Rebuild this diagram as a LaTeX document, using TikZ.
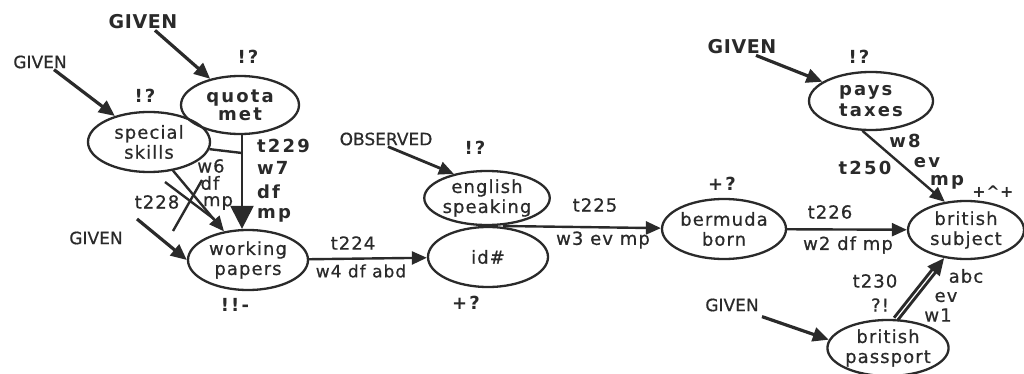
\documentclass[tikz,border=0pt]{standalone}
\usepackage{fontspec}
\setmainfont{DejaVu Sans}
\newfontfamily\wreg{DejaVu Sans}[LetterSpace=6,FakeBold=0.6]
\newfontfamily\wbold{DejaVu Sans Bold}[LetterSpace=12]
\newfontfamily\gbold{DejaVu Sans Bold}[LetterSpace=3]
\newfontfamily\greg{DejaVu Sans}[FakeBold=0.6]
\usetikzlibrary{arrows.meta,shapes.geometric}
\definecolor{ink}{HTML}{2A2A2A}
\tikzset{
  st/.style 2 args={ellipse, draw=ink, line width=2.3pt, inner sep=0pt,
    minimum width=#1pt, minimum height=#2pt, align=center, text=ink},
  lab/.style={inner sep=1pt, text=ink},
  blab/.style={lab, font=\fontsize{18}{20}\selectfont\wbold},
  arr/.style={draw=ink, line width=2.4pt, -{Triangle[length=15pt,width=13pt]}},
  garr/.style={arr, line width=3.2pt, -{Triangle[length=16pt,width=14pt]}},
  bigarr/.style={draw=ink, line width=2.4pt, -{Triangle[length=23pt,width=23pt]}},
  plain/.style={draw=ink, line width=2.4pt},
}
\begin{document}
\begin{tikzpicture}[x=1pt,y=-1pt, font=\fontsize{18}{20}\selectfont\wreg]
\useasboundingbox (0,0) rectangle (1024,374);
\fill[white] (0,0) rectangle (1024,374);

% ellipse nodes
\node[st={118}{58}, font=\fontsize{18}{18}\selectfont\wbold] (qm) at (240,105) {quota\\met};
\node[st={122}{60}] (ss) at (149,142) {special\\skills};
\node[st={120}{60}] (wp) at (248,260) {working\\papers};
\node[st={122}{54}] (es) at (487,198) {english\\speaking};
\node[st={120}{60}] (id) at (488,257) {id\#};
\node[st={124}{60}] (bb) at (724,229) {bermuda\\born};
\node[st={116}{58}] (bs) at (966,230) {british\\subject};
\node[st={124}{58}, font=\fontsize{18}{21}\selectfont\wbold, align=left] (pt) at (871,101) {pays\\taxes};
\node[st={120}{56}] (pp) at (888,348) {british\\passport};

% source labels
\node[lab, font=\fontsize{19}{20}\selectfont\gbold] (g1) at (143,22) {GIVEN};
\node[lab, font=\fontsize{17}{20}\selectfont\greg] (g2) at (40,62) {GIVEN};
\node[lab, font=\fontsize{17}{20}\selectfont\greg] (g3) at (96,238) {GIVEN};
\node[lab, font=\fontsize{17}{20}\selectfont\greg] (obs) at (386,139) {OBSERVED};
\node[lab, font=\fontsize{19}{20}\selectfont\gbold] (g4) at (742,47) {GIVEN};
\node[lab, font=\fontsize{17}{20}\selectfont\greg] (g5) at (732,305) {GIVEN};

% status marks
\node[blab] (m1) at (248,57) {!?};
\node[blab] (m2) at (145,96) {!?};
\node[blab] (m3) at (235,305) {!!-};
\node[blab] (m4) at (475,148) {!?};
\node[blab] (m5) at (466,303) {+?};
\node[blab] (m6) at (722,184) {+?};
\node[blab] (m7) at (859,57) {!?};
\node[lab, font=\fontsize{16}{19}\selectfont\gbold] (m8) at (993,192) {+\textasciicircum+};

% given arrows
\coordinate (g3s) at (137,219);
\draw[garr] ([xshift=12pt]g1.south) -- (qm);
\draw[garr] ([xshift=14pt]g2.south) -- (ss);
\draw[garr] (g3s) -- (wp.west);
\draw[arr, line width=2.8pt] ([xshift=2pt]obs.south) -- (es.144);
\draw[garr] ([xshift=14pt]g4.south) -- (pt);
\draw[garr] ([xshift=30pt,yshift=-4pt]g5.south) -- (pp.172);

% t229 joint link
\coordinate (j229) at (242,153);
\draw[plain] (qm.south -| j229) -- (j229);
\draw[plain] (ss) -- (j229);
\draw[bigarr] (j229) -- (wp.north -| j229);
\node[blab, anchor=west] (l229a) at (256,146) {t229};
\node[blab, anchor=west] (l229b) at (256,168) {w7};
\node[blab, anchor=west] (l229c) at (256,192) {df};
\node[blab, anchor=west] (l229d) at (256,215) {mp};

% t228 link (crossed out)
\draw[arr] (ss) -- (wp);
\coordinate (c228a) at (165,182);
\coordinate (c228b) at (214,219);
\draw[plain] (c228a) -- (c228b);
\coordinate (x228a) at (202,180);
\coordinate (x228b) at (173,231);
\draw[plain] (x228a) -- (x228b);
\node[lab] (l228a) at (157,202) {t228};
\node[lab] (l228b) at (211,166) {w6};
\node[lab] (l228c) at (210,183) {df};
\node[lab] (l228d) at (218,203) {mp};

% t224
\draw[arr] (wp) -- (id);
\node[lab] (l224a) at (353,243) {t224};
\node[lab, font=\fontsize{17}{20}\selectfont\wreg] (l224b) at (361,271) {w4 df abd};

% t225
\coordinate (j225) at (503,226);
\draw[arr] (j225) -- (bb);
\node[lab] (l225a) at (595,205) {t225};
\node[lab] (l225b) at (603,240) {w3 ev mp};

% t226
\draw[arr] (bb) -- (bs);
\node[lab] (l226a) at (830,212) {t226};
\node[lab] (l226b) at (848,245) {w2 df mp};

% t250
\draw[arr] (pt.254) -- (bs.127);
\node[blab] (l250a) at (865,168) {t250};
\node[blab] (l250b) at (905,141) {w8};
\node[blab] (l250c) at (927,163) {ev};
\node[blab] (l250d) at (947,182) {mp};

% t230 (double link)
\draw[draw=ink, double=white, double distance=1.2pt, line width=3pt, -{Triangle[length=17pt,width=15pt]}] (pp.75) -- (bs.232);
\node[lab] (l230a) at (875,281) {t230};
\node[lab] (l230b) at (880,305) {?!};
\node[lab] (l230c) at (966,276) {abc};
\node[lab] (l230d) at (946,297) {ev};
\node[lab] (l230e) at (938,315) {w1};
\end{tikzpicture}
\end{document}
